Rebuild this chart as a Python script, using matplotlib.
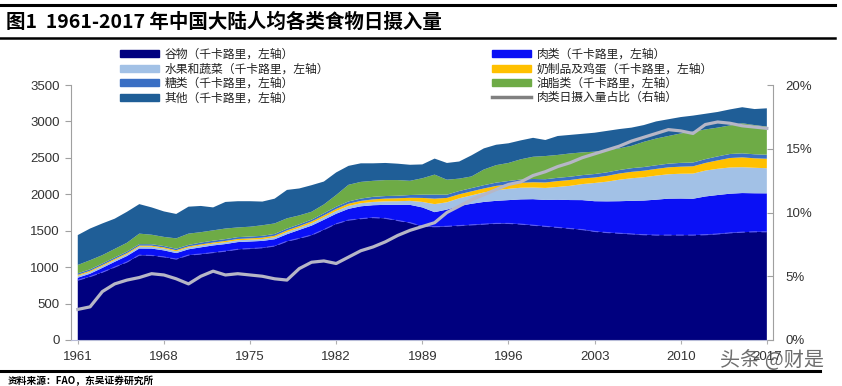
import matplotlib
matplotlib.use('Agg')
import matplotlib.pyplot as plt
from matplotlib.patches import Patch
from matplotlib.lines import Line2D

plt.rcParams['font.family'] = ['Liberation Sans', 'Noto Sans CJK SC', 'DejaVu Sans']
CJK = ['Noto Sans CJK SC', 'DejaVu Sans']

years = list(range(1961, 2018))

# kcal per person per day
grain = [820, 870, 930, 1000, 1070, 1165, 1160, 1140, 1110, 1165,
         1180, 1200, 1220, 1245, 1255, 1265, 1290, 1355, 1395, 1440,
         1515, 1595, 1645, 1665, 1680, 1670, 1640, 1610, 1560, 1555,
         1560, 1570, 1580, 1590, 1600, 1600, 1590, 1575, 1560, 1545,
         1530, 1515, 1490, 1475, 1465, 1455, 1445, 1440, 1440, 1440,
         1440, 1445, 1455, 1470, 1480, 1485, 1485]
meat = [35, 40, 60, 73, 83, 91, 95, 90, 83, 80,
        92, 98, 97, 99, 97, 95, 93, 97, 116, 130,
        135, 138, 155, 170, 170, 185, 215, 245, 260, 200,
        230, 270, 290, 305, 310, 320, 340, 358, 362, 381,
        391, 405, 415, 428, 440, 455, 469, 486, 500, 502,
        499, 525, 535, 538, 537, 529, 528]
fruit_veg = [25, 25, 25, 25, 25, 25, 25, 25, 25, 25,
             25, 25, 25, 25, 25, 25, 28, 30, 30, 32,
             35, 38, 40, 42, 45, 48, 50, 55, 75, 110,
             100, 105, 115, 130, 145, 155, 160, 160, 165, 175,
             195, 220, 250, 270, 295, 310, 320, 330, 335, 340,
             345, 355, 360, 360, 355, 350, 345]
dairy_egg = [15, 15, 15, 15, 15, 15, 15, 15, 15, 15,
             15, 15, 18, 18, 18, 20, 20, 22, 22, 25,
             25, 28, 30, 32, 35, 38, 40, 42, 55, 75,
             60, 55, 55, 55, 60, 62, 68, 72, 75, 80,
             80, 78, 75, 80, 85, 88, 90, 92, 95, 97,
             100, 105, 115, 130, 135, 130, 130]
sugar = [20, 20, 20, 20, 20, 20, 20, 20, 20, 20,
         25, 25, 25, 25, 25, 25, 25, 25, 25, 25,
         30, 30, 32, 32, 35, 35, 35, 38, 45, 55,
         45, 45, 45, 45, 45, 45, 45, 45, 45, 45,
         45, 45, 48, 48, 48, 50, 50, 50, 50, 52,
         52, 52, 55, 55, 55, 55, 55]
oil = [115, 125, 115, 117, 122, 144, 130, 125, 142, 155,
       143, 142, 145, 133, 135, 145, 144, 141, 122, 108,
       120, 161, 228, 229, 220, 219, 215, 195, 225, 275,
       205, 170, 160, 215, 240, 248, 277, 305, 318, 314,
       319, 312, 307, 304, 297, 307, 346, 367, 380, 404,
       424, 408, 395, 392, 413, 401, 387]
other = [410, 435, 435, 415, 425, 405, 375, 350, 335, 370,
         360, 315, 365, 360, 350, 325, 340, 390, 370, 365,
         315, 310, 260, 255, 240, 235, 225, 220, 190, 220,
         230, 235, 290, 290, 280, 270, 260, 260, 220, 260,
         255, 255, 260, 265, 265, 250, 230, 235, 230, 225,
         220, 215, 215, 220, 220, 220, 250]
# meat share of daily intake, %
meat_share = [2.4, 2.6, 3.8, 4.4, 4.7, 4.9, 5.2, 5.1, 4.8, 4.4,
              5.0, 5.4, 5.1, 5.2, 5.1, 5.0, 4.8, 4.7, 5.6, 6.1,
              6.2, 6.0, 6.5, 7.0, 7.3, 7.7, 8.2, 8.6, 8.9, 9.2,
              10.0, 10.5, 11.0, 11.4, 11.8, 12.2, 12.4, 12.9, 13.2, 13.6,
              13.9, 14.3, 14.6, 14.9, 15.2, 15.6, 15.9, 16.2, 16.5, 16.4,
              16.2, 16.9, 17.1, 17.0, 16.8, 16.7, 16.6]

labels = ['谷物（千卡路里，左轴）', '肉类（千卡路里，左轴）', '水果和蔬菜（千卡路里，左轴）',
          '奶制品及鸡蛋（千卡路里，左轴）', '糖类（千卡路里，左轴）', '油脂类（千卡路里，左轴）',
          '其他（千卡路里，左轴）']
share_label = '肉类日摄入量占比（右轴）'
colors = ['#00007f', '#0a10f5', '#a2c1e6', '#ffc000', '#3a6fc4', '#6eab46', '#1f5e97']

fig = plt.figure(figsize=(8.42, 3.86), dpi=100)
ax = fig.add_axes([71/842, 1 - 340/386, 702/842, 255/386])
ax.stackplot(years, grain, meat, fruit_veg, dairy_egg, sugar, oil, other,
             colors=colors, linewidth=0)
ax.plot(years, grain, color='#5c5cf0', lw=0.8, ls=(0, (7, 4)))
ax.set_xlim(1960.45, 2017.5)
ax.set_ylim(0, 3500)
ax.set_yticks(range(0, 3501, 500))
ax.set_xticks(range(1961, 2018, 7))
for s in ['top', 'right']:
    ax.spines[s].set_visible(False)
ax.spines['left'].set_color('#a0a0a0')
ax.spines['bottom'].set_color('#b8bcd8')
ax.tick_params(axis='y', direction='out', length=4, color='#a0a0a0',
               labelsize=9.5, labelcolor='#333333', pad=4)
ax.tick_params(axis='x', direction='out', length=3, color='#b0b0b0',
               labelsize=9.5, labelcolor='#333333', pad=5)

ax2 = ax.twinx()
ax2.plot(years, meat_share, color='#b6b6c6', lw=2.3)
ax2.set_ylim(0, 20)
ax2.set_yticks(range(0, 21, 5))
ax2.yaxis.set_major_formatter(lambda v, p: f'{v:.0f}%')
for s in ['top', 'left', 'bottom']:
    ax2.spines[s].set_visible(False)
ax2.spines['right'].set_color('#a0a0a0')
ax2.tick_params(axis='y', direction='in', length=4, color='#a0a0a0',
                labelsize=9.5, labelcolor='#333333', pad=9)

# legends
h = [Patch(color=c) for c in colors]
left_idx = [0, 2, 4, 6]
right_idx = [1, 3, 5]
leg_kw = dict(frameon=False, handlelength=3.3, handleheight=0.55,
              labelspacing=0.12, handletextpad=0.5, borderpad=0, borderaxespad=0,
              prop={'family': CJK, 'size': 8.5})
leg1 = fig.legend([h[i] for i in left_idx], [labels[i] for i in left_idx],
                  loc='upper left', bbox_to_anchor=(120/842, 1 - 48/386), **leg_kw)
leg2 = fig.legend([h[i] for i in right_idx] + [Line2D([], [], color='#808080', lw=2.5)],
                  [labels[i] for i in right_idx] + [share_label],
                  loc='upper left', bbox_to_anchor=(492/842, 1 - 48/386), **leg_kw)
for leg in (leg1, leg2):
    for t in leg.get_texts():
        t.set_color('#222222')

# title with rules
fig.add_artist(Line2D([0, 835/842], [1 - 5/386, 1 - 5/386], color='black', lw=2.2))
fig.add_artist(Line2D([0, 835/842], [1 - 38/386, 1 - 38/386], color='black', lw=1.8))
fig.text(6/842, 1 - 22/386, '图1  1961-2017 年中国大陆人均各类食物日摄入量',
         family=['Noto Sans CJK SC', 'DejaVu Sans'], fontsize=14, fontweight='bold',
         va='center', ha='left')
fig.add_artist(Line2D([0, 820/842], [1 - 371/386, 1 - 371/386], color='black', lw=2.2))
fig.text(8/842, 1 - 376/386, '资料来源：FAO，东吴证券研究所',
         family=CJK, fontsize=7, fontweight='bold', va='top', ha='left')

fig.text(720/842, 1 - 360/386, '头条 @财是', family=CJK, fontsize=14.5,
         color='#555555', va='center', ha='left', alpha=0.85)

fig.savefig('out.png', dpi=100)
